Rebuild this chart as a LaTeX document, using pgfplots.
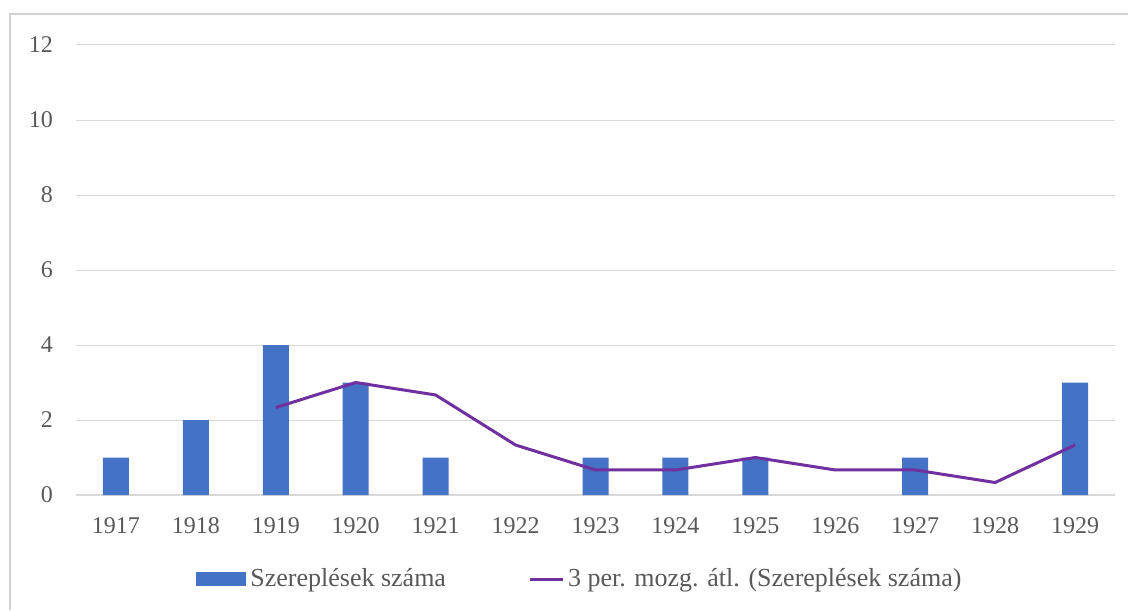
\documentclass[border=0pt]{standalone}
\usepackage{pgfplots}
\pgfplotsset{compat=1.18}
\usepackage{fontspec}
\setmainfont{Liberation Serif}
\definecolor{barblue}{HTML}{4472C4}
\definecolor{linepurple}{HTML}{7030A0}
\definecolor{gridgray}{HTML}{D9D9D9}
\definecolor{textgray}{HTML}{595959}
\begin{document}
\begin{tikzpicture}
\useasboundingbox (0,0) rectangle (564pt,-305pt);
\draw[gray!35, line width=0.8pt] (5pt,-305pt) -- (5pt,-7pt) -- (564pt,-7pt);
\begin{axis}[
  at={(38pt,-247.5pt)}, anchor=south west,
  width=519.5pt, height=225pt, scale only axis,
  xmin=-0.5, xmax=12.5, ymin=0, ymax=12,
  xtick={0,...,12},
  xticklabels={1917,1918,1919,1920,1921,1922,1923,1924,1925,1926,1927,1928,1929},
  ytick={0,2,...,12},
  ymajorgrids, grid style={gridgray, line width=0.5pt},
  axis line style={draw=none},
  major tick length=0pt,
  tick label style={font=\fontsize{12}{14}\selectfont, text=textgray},
  xticklabel style={text height=8.5pt, text depth=0pt},
  /pgf/number format/assume math mode=true,
  yticklabel shift=8pt,
  xticklabel shift=7pt,
  legend columns=2,
  legend style={draw=none, fill=none, font=\fontsize{13}{15}\selectfont, text=textgray,
    at={(0.486,-0.187)}, anchor=center,
    /tikz/every even column/.append style={column sep=39pt}},
]
\draw[gridgray, line width=0.6pt] (axis cs:-0.5,0) -- (axis cs:12.5,0);
\addplot[ybar, bar width=13pt, fill=barblue, draw=none,
  legend image code/.code={\fill[barblue] (0pt,-3.5pt) rectangle (25pt,3.5pt);}]
  coordinates {(0,1) (1,2) (2,4) (3,3) (4,1) (6,1) (7,1) (8,1) (10,1) (12,3)};
\addlegendentry{Szereplések száma}
\addplot[linepurple, line width=1.5pt, mark=none,
  legend image code/.code={\draw[linepurple, line width=1.5pt] (0pt,0pt) -- (16.5pt,0pt);}]
  coordinates {(2,2.333) (3,3) (4,2.667) (5,1.333) (6,0.667) (7,0.667) (8,1) (9,0.667) (10,0.667) (11,0.333) (12,1.333)};
\addlegendentry{3 per. mozg. átl. (Szereplések száma)}
\end{axis}
\end{tikzpicture}
\end{document}
